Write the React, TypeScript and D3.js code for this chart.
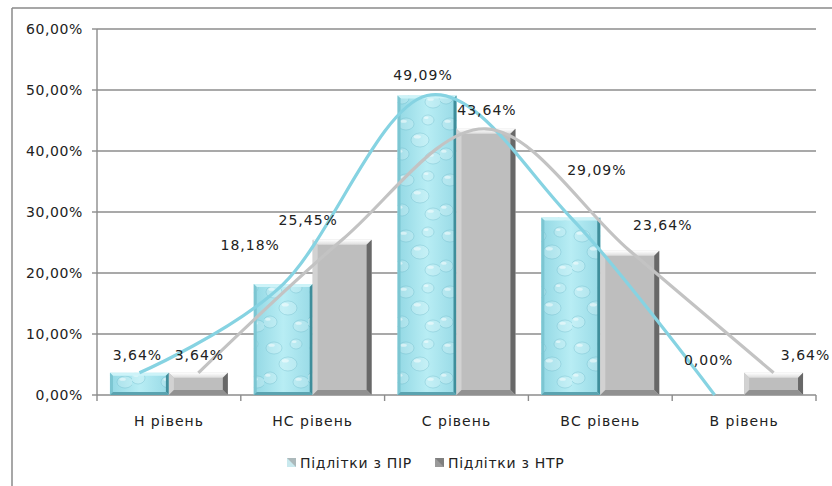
import React from "react";
import * as d3 from "d3";

const categories = ["Н рівень", "НС рівень", "С рівень", "ВС рівень", "В рівень"];
const seriesNames = ["Підлітки з ПІР", "Підлітки з НТР"];
const pirValues = [3.64, 18.18, 49.09, 29.09, 0.0];
const ntrValues = [3.64, 25.45, 43.64, 23.64, 3.64];
const yTicks = [0, 10, 20, 30, 40, 50, 60];
// label offsets (dx, dy) relative to bar top centre
const pirLabelOffsets = [[-2, -18], [-33, -39], [-4, -20], [26, -47], [-6, -35]];
const ntrLabelOffsets = [[1, -18], [-34, -20], [1, -19], [33, -26], [32, -18]];

const W = 832;
const H = 486;
const M = { left: 97, right: 816, top: 29, bottom: 395 };
const FONT = "'DejaVu Sans', Verdana, sans-serif";

const fmt = (v: number) => d3.format(".2f")(v).replace(".", ",") + "%";

function bevel(x0: number, y0: number, x1: number, y1: number, b: number) {
  const p = (pts: number[][]) => pts.map((q) => q.join(",")).join(" ");
  return {
    top: p([[x0, y0], [x1, y0], [x1 - b, y0 + b], [x0 + b, y0 + b]]),
    bottom: p([[x0, y1], [x1, y1], [x1 - b, y1 - b], [x0 + b, y1 - b]]),
    left: p([[x0, y0], [x0 + b, y0 + b], [x0 + b, y1 - b], [x0, y1]]),
    right: p([[x1, y0], [x1 - b, y0 + b], [x1 - b, y1 - b], [x1, y1]]),
  };
}

const drops = [
  [10, 12, 8, 6],
  [32, 8, 6, 5],
  [24, 28, 9, 7],
  [6, 42, 7, 6],
  [37, 46, 8, 6],
];

export default function App() {
  const x = d3.scaleBand<string>().domain(categories).range([M.left, M.right]).paddingInner(0).paddingOuter(0);
  const x1 = d3.scaleBand<string>().domain(seriesNames).range([0, x.bandwidth()]).paddingInner(0).paddingOuter(0.22);
  const y = d3.scaleLinear().domain([0, 60]).range([M.bottom, M.top]);

  const series = [
    { name: seriesNames[0], values: pirValues, offsets: pirLabelOffsets, kind: "blue" },
    { name: seriesNames[1], values: ntrValues, offsets: ntrLabelOffsets, kind: "grey" },
  ];

  const colors: Record<string, any> = {
    blue: { face: "url(#blueFace)", top: "#cdf3f8", left: "#7cc6d2", right: "#3f8e9b", bottom: "#5aa3b0", line: "#86d3e2", b: 3 },
    grey: { face: "#bebebe", top: "url(#greyTop)", left: "#d2d2d2", right: "#686868", bottom: "#919191", line: "#c3c3c3", b: 5 },
  };

  const line = d3
    .line<[number, number]>()
    .x((d) => d[0])
    .y((d) => d[1])
    .curve(d3.curveCardinal.tension(0));

  const boundaries = [...categories.map((c) => x(c) as number), M.right];

  return (
    <svg width={W} height={H} style={{ position: "absolute", left: 0, top: 0, background: "#fff" }} fontFamily={FONT}>
      <defs>
        <linearGradient id="blueFace" x1="0" y1="0" x2="1" y2="0">
          <stop offset="0" stopColor="#93d8e4" />
          <stop offset="0.5" stopColor="#b8edf4" />
          <stop offset="1" stopColor="#98dae6" />
        </linearGradient>
        <linearGradient id="greyTop" x1="0" y1="0" x2="0" y2="1">
          <stop offset="0" stopColor="#ffffff" />
          <stop offset="1" stopColor="#dcdcdc" />
        </linearGradient>
        <pattern id="drops" width="44" height="56" patternUnits="userSpaceOnUse">
          {drops.map(([cx, cy, rx, ry], i) => (
            <g key={i}>
              <ellipse cx={cx} cy={cy} rx={rx} ry={ry} fill="rgba(255,255,255,0.18)" stroke="rgba(70,160,178,0.25)" strokeWidth={1} />
              <ellipse cx={cx - rx * 0.3} cy={cy - ry * 0.45} rx={rx * 0.4} ry={ry * 0.25} fill="rgba(255,255,255,0.5)" />
            </g>
          ))}
        </pattern>
      </defs>

      {/* outer border */}
      <line x1={12} y1={8} x2={W} y2={8} stroke="#8a8a8a" strokeWidth={1.5} />
      <line x1={12} y1={8} x2={12} y2={H} stroke="#8a8a8a" strokeWidth={1.5} />

      {/* gridlines */}
      {yTicks.map((t) => (
        <g key={t}>
          <line x1={M.left} x2={M.right} y1={y(t)} y2={y(t)} stroke="#8c8c8c" strokeWidth={1.4} />
          <line x1={M.left - 5} x2={M.left} y1={y(t)} y2={y(t)} stroke="#8c8c8c" strokeWidth={1.4} />
          <text x={83} y={y(t)} dy="0.35em" textAnchor="end" fontSize={14} letterSpacing={0.6} fill="#222">
            {fmt(t)}
          </text>
        </g>
      ))}
      <line x1={M.left} x2={M.left} y1={M.top} y2={M.bottom} stroke="#8c8c8c" strokeWidth={1.4} />
      {boundaries.map((b, i) => (
        <line key={i} x1={b} x2={b} y1={M.bottom} y2={M.bottom + 6} stroke="#8c8c8c" strokeWidth={1.4} />
      ))}

      {/* bars */}
      {series.map((s) =>
        s.values.map((v, i) => {
          const bx = (x(categories[i]) as number) + (x1(s.name) as number);
          const bw = x1.bandwidth();
          const y0 = y(v);
          const y1v = y(0);
          const h = y1v - y0;
          if (h <= 0.5) return null;
          const c = colors[s.kind];
          const b = Math.min(c.b, h / 2);
          const bv = bevel(bx, y0, bx + bw, y1v, b);
          return (
            <g key={s.name + i}>
              <rect x={bx} y={y0} width={bw} height={h} fill={c.face} />
              {s.kind === "blue" && <rect x={bx} y={y0} width={bw} height={h} fill="url(#drops)" />}
              <polygon points={bv.top} fill={c.top} />
              <polygon points={bv.left} fill={c.left} />
              <polygon points={bv.right} fill={c.right} />
              <polygon points={bv.bottom} fill={c.bottom} />
            </g>
          );
        })
      )}

      {/* smoothed lines */}
      {series.map((s) => {
        const pts: [number, number][] = s.values.map((v, i) => [
          (x(categories[i]) as number) + (x1(s.name) as number) + x1.bandwidth() / 2,
          y(v),
        ]);
        return <path key={s.name} d={line(pts) || ""} fill="none" stroke={colors[s.kind].line} strokeWidth={3.2} />;
      })}

      {/* data labels */}
      {series.map((s) =>
        s.values.map((v, i) => {
          const cx = (x(categories[i]) as number) + (x1(s.name) as number) + x1.bandwidth() / 2;
          return (
            <text
              key={s.name + "l" + i}
              x={cx + s.offsets[i][0]}
              y={y(v) + s.offsets[i][1]}
              dy="0.35em"
              textAnchor="middle"
              fontSize={14}
              letterSpacing={1}
              fill="#222"
            >
              {fmt(v)}
            </text>
          );
        })
      )}

      {/* category labels */}
      {categories.map((c) => (
        <text
          key={c}
          x={(x(c) as number) + x.bandwidth() / 2}
          y={421}
          dy="0.35em"
          textAnchor="middle"
          fontSize={14}
          letterSpacing={1}
          fill="#222"
        >
          {c}
        </text>
      ))}

      {/* legend */}
      {series.map((s, i) => {
        const lx = [287, 435][i];
        return (
          <g key={s.name + "leg"}>
            <rect x={lx} y={458} width={9} height={9} fill={s.kind === "blue" ? "#c9e9ee" : "#9a9a9a"} />
            <polygon
              points={`${lx},${458} ${lx + 9},${458} ${lx + 9},${467}`}
              fill={s.kind === "blue" ? "#9a9a9a" : "#6e6e6e"}
              opacity={0.6}
            />
            <text x={lx + 13} y={463} dy="0.35em" fontSize={14} letterSpacing={0.7} fill="#222">
              {s.name}
            </text>
          </g>
        );
      })}
    </svg>
  );
}
